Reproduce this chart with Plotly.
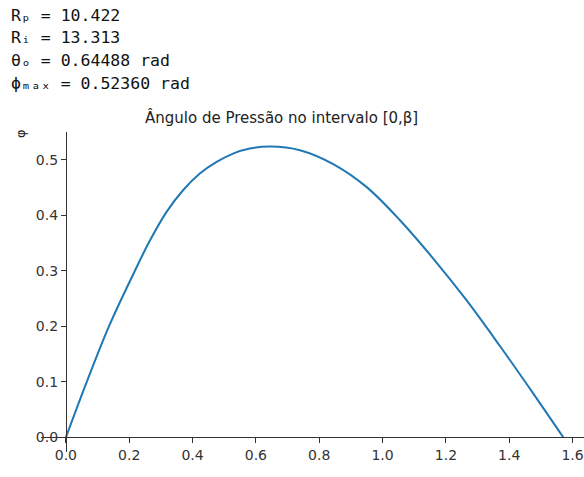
import plotly.graph_objects as go

# Data
theta = [0.0, 0.066, 0.136, 0.218, 0.265, 0.318, 0.37, 0.423, 0.476, 0.528, 0.581,
         0.645, 0.739, 0.844, 0.949, 1.055, 1.160, 1.265, 1.370, 1.476, 1.571]
phi = [0.0, 0.1, 0.2, 0.3, 0.354, 0.406, 0.445, 0.475, 0.496, 0.511, 0.520,
       0.5236, 0.517, 0.492, 0.451, 0.391, 0.322, 0.247, 0.165, 0.079, 0.0]
x_ticks = [0.0, 0.2, 0.4, 0.6, 0.8, 1.0, 1.2, 1.4, 1.6]
y_ticks = [0.0, 0.1, 0.2, 0.3, 0.4, 0.5]
info_lines = ["Rₚ = 10.422", "Rᵢ = 13.313", "θₒ = 0.64488 rad", "ϕₘₐₓ = 0.52360 rad"]
title_text = "Ângulo de Pressão no intervalo [0,β]"
y_label = "φ"

W, H = 584, 476
L = 41
T = 131.6
B = H - 451.9
R = 0
pw, ph = W - L - R, H - T - B
xr = [-0.0785, -0.0785 + pw / 316.7]
yr = [-0.0262, 0.5498]

def px(x):
    return (x - L) / pw

def py(y):
    return (H - B - y) / ph

fig = go.Figure()
fig.add_trace(go.Scatter(x=theta, y=phi, mode="lines",
                         line=dict(color="#1f77b4", width=2, shape="spline", smoothing=1),
                         showlegend=False, hoverinfo="skip"))

axis_col = "#333333"
fig.update_layout(
    width=W, height=H,
    margin=dict(l=L, r=R, t=T, b=B, pad=0),
    paper_bgcolor="white", plot_bgcolor="white",
    font=dict(family="DejaVu Sans", size=14, color="#222222"),
    xaxis=dict(range=xr, tickvals=x_ticks, ticktext=[f"{v:.1f}" for v in x_ticks],
               showgrid=False, zeroline=False, showline=True, linecolor=axis_col, linewidth=1,
               ticks="outside", ticklen=5, tickwidth=1, tickcolor=axis_col,
               anchor="free", position=(0 - yr[0]) / (yr[1] - yr[0]),
               tickfont=dict(size=14, color="#333333")),
    yaxis=dict(range=yr, tickvals=y_ticks, ticktext=[f"{v:.1f}" for v in y_ticks],
               showgrid=False, zeroline=False, showline=True, linecolor=axis_col, linewidth=1,
               ticks="outside", ticklen=5, tickwidth=1, tickcolor=axis_col,
               anchor="free", position=(0 - xr[0]) / (xr[1] - xr[0]),
               tickfont=dict(size=14, color="#333333")),
)

# Title
fig.add_annotation(text=title_text, xref="paper", yref="paper", x=px(281.5), y=py(117.5),
                   xanchor="center", yanchor="middle", showarrow=False,
                   font=dict(family="DejaVu Sans", size=15, color="#222222"))
# y label
fig.add_annotation(text=y_label, xref="paper", yref="paper", x=px(20.5), y=py(133),
                   xanchor="center", yanchor="middle", showarrow=False, textangle=-90,
                   font=dict(family="DejaVu Sans", size=13, color="#222222"))
# Info text lines
for i, t in enumerate(info_lines):
    fig.add_annotation(text=t, xref="paper", yref="paper", x=px(9), y=py(14.5 + 23 * i),
                       xanchor="left", yanchor="middle", showarrow=False,
                       font=dict(family="DejaVu Sans Mono", size=16.5, color="#111111"))

fig.write_html("out.html", config={"displayModeBar": False},
               post_script="document.body.style.margin='0';document.body.style.overflow='hidden';")
